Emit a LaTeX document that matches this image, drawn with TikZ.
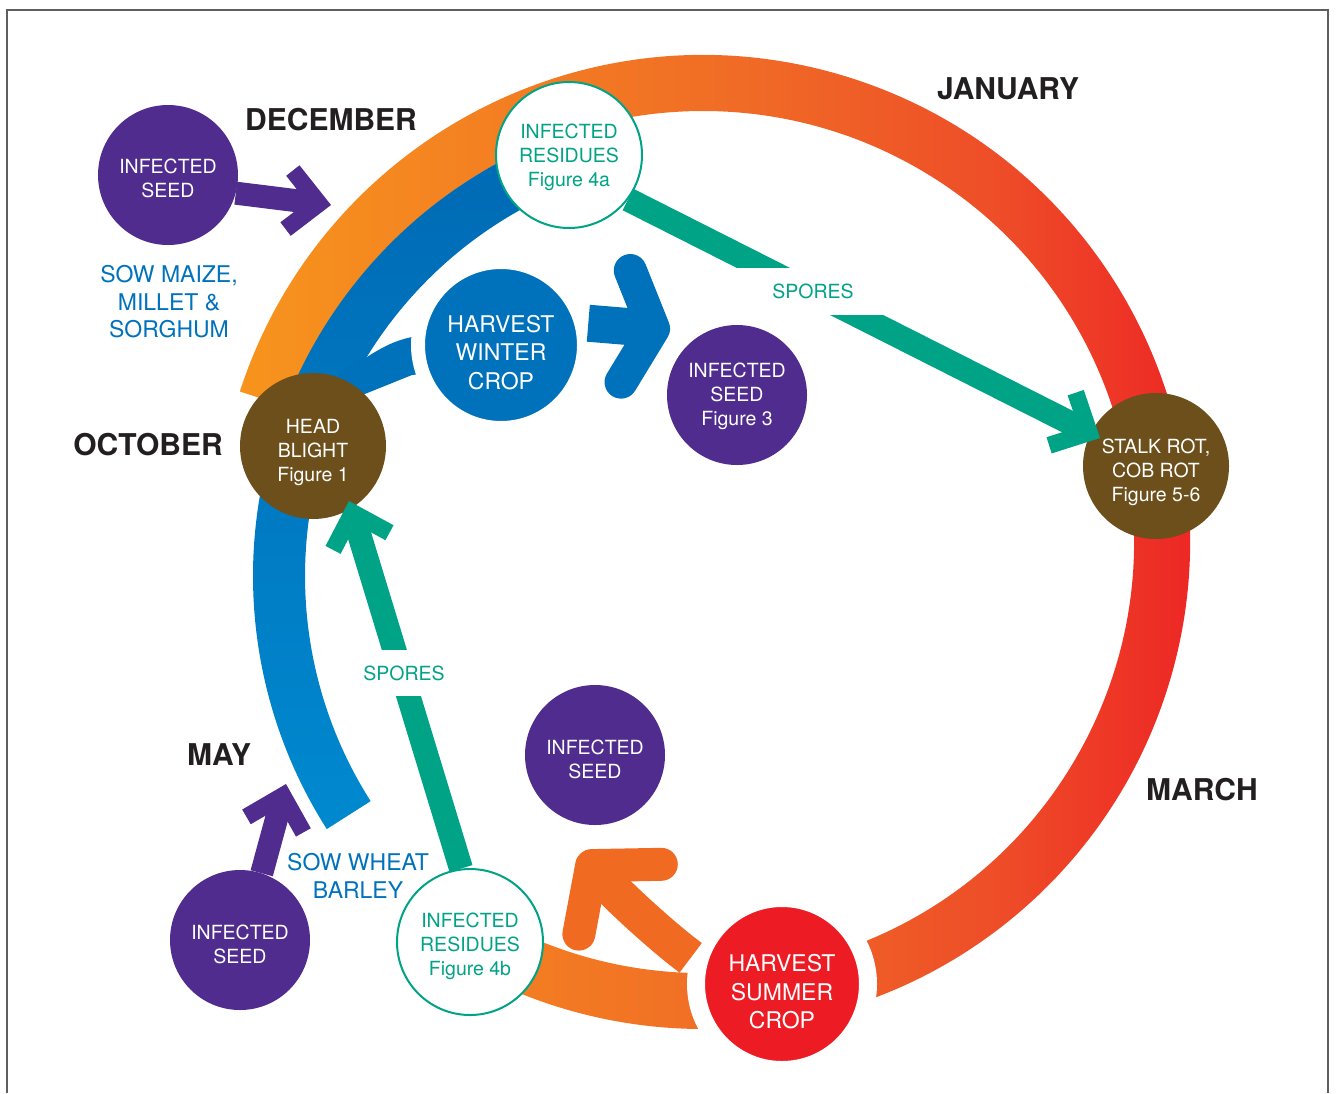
\documentclass[tikz,border=0pt]{standalone}
\usepackage{fontspec}
\setmainfont{TeX Gyre Heros}
\usetikzlibrary{arrows.meta,calc}
\pgfdeclarelayer{bg}
\pgfsetlayers{bg,main}

\definecolor{seedpurple}{HTML}{4F2C8D}
\definecolor{sporeteal}{HTML}{00A386}
\definecolor{rotbrown}{HTML}{6C4F1B}
\definecolor{summerred}{HTML}{ED1C24}
\definecolor{cropblue}{HTML}{0071BB}
\definecolor{croporange}{HTML}{F16A22}
\definecolor{sowblue}{HTML}{0072BC}
\definecolor{monthblack}{HTML}{231F20}
\definecolor{framegray}{HTML}{5E5E5E}
\definecolor{bandtop}{HTML}{0069B4}
\definecolor{bandbot}{HTML}{0089CF}
\definecolor{ringA}{HTML}{F7941D}
\definecolor{ringB}{HTML}{F06B26}
\definecolor{ringC}{HTML}{EE4D28}
\definecolor{ringD}{HTML}{ED1C24}

\pgfdeclarehorizontalshading{ringshade}{100bp}{color(0bp)=(ringA); color(25bp)=(ringA);
  color(50bp)=(ringB); color(62.5bp)=(ringC); color(75bp)=(ringD); color(100bp)=(ringD)}

% invisible strut that lowers the text block inside a disc
\newcommand{\lowr}[1]{\rule{0pt}{#1}}

\tikzset{
  disc/.style={circle, inner sep=0pt, minimum size=140pt, text=white, align=center,
    font=\fontsize{19.5}{24}\selectfont},
  seed/.style={disc, fill=seedpurple},
  residue/.style={disc, minimum size=146pt, fill=white, draw=sporeteal, line width=2pt,
    text=sporeteal},
  disease/.style={disc, minimum size=146pt, fill=rotbrown},
  harvest/.style={disc, draw=white, font=\fontsize{23}{28.5}\selectfont},
  month/.style={font=\fontsize{30}{36}\selectfont\bfseries, text=monthblack},
  sowing/.style={font=\fontsize{23}{27.5}\selectfont, text=sowblue, align=center},
  spores/.style={fill=white, text=sporeteal, font=\fontsize{19.5}{24}\selectfont},
  seedarrow/.style={seedpurple, line width=23pt,
    -{Straight Barb[length=30pt, width=59pt, line width'=17pt]}},
  sporearrow/.style={sporeteal, line width=24pt,
    -{Straight Barb[length=30pt, width=59pt, line width'=17pt]}},
  winterarrow/.style={cropblue, line width=37pt,
    -{Straight Barb[round, length=28pt, width=112pt, line width'=33pt]}},
  summerarrow/.style={croporange, line width=37pt,
    -{Straight Barb[round, length=44pt, width=108pt, line width'=33pt]}},
}

\begin{document}
\begin{tikzpicture}[x=1pt, y=-1pt]
\useasboundingbox (0,0) rectangle (1337,1093);

% page frame
\draw[framegray, line width=2.2pt] (7,1093) -- (7,10) -- (1328,10) -- (1328,1093);

% centres of the year ring and the winter band
\coordinate (hub) at (703,542);
\coordinate (bandhub) at (724,576);

% free arrow ends
\coordinate (seedAtip) at (331,205);
\coordinate (seedBtip) at (286,784);
\coordinate (stalktip) at (1100,438);
\coordinate (blighttip) at (349,501);
\coordinate (seed3tip) at (670,330);
\coordinate (summertip) at (581,853);

% stages
\node[seed] (seedA) at (168,175) {\lowr{22pt}INFECTED\\SEED};
\node[residue] (res4a) at (569,155) {\lowr{20pt}INFECTED\\RESIDUES\\Figure 4a};
\node[harvest, fill=cropblue, line width=14pt, minimum size=166pt]
  (winter) at (501,345) {\lowr{31.5pt}HARVEST\\WINTER\\CROP};
\node[seed] (seed3) at (737,395) {\lowr{18pt}INFECTED\\SEED\\Figure 3};
\node[disease] (blight) at (313,446) {\lowr{28pt}HEAD\\BLIGHT\\Figure 1};
\node[disease] (stalk) at (1156,466) {\lowr{28pt}STALK ROT,\\COB ROT\\Figure 5-6};
\node[seed] (seedM) at (595,755) {\lowr{24pt}INFECTED\\SEED};
\node[residue] (res4b) at (470,942) {\lowr{24pt}INFECTED\\RESIDUES\\Figure 4b};
\node[seed] (seedB) at (240,940) {\lowr{24pt}INFECTED\\SEED};
\node[harvest, fill=summerred, line width=18pt, minimum size=172pt]
  (summer) at (782,984) {\lowr{32.5pt}HARVEST\\SUMMER\\CROP};

% months and sowing
\node[month] (dec) at (331,120) {DECEMBER};
\node[month] (jan) at (1008,89) {JANUARY};
\node[month] (oct) at (148,445) {OCTOBER};
\node[month] (may) at (219,755) {MAY};
\node[month] (mar) at (1202,790) {MARCH};
\node[sowing] (sowmaize) at (169,302) {SOW MAIZE,\\MILLET \&\\SORGHUM};
\node[sowing] (sowwheat) at (358,876) {SOW WHEAT\\BARLEY};

% bands behind the stages
\begin{pgfonlayer}{bg}
  \shade[shading=ringshade]
    ($(hub)+(-162:487)$) arc[start angle=-162, end angle=120, radius=487]
    -- ($(hub)+(120:431)$) arc[start angle=120, end angle=-162, radius=431] -- cycle;
  \shade[top color=bandtop, bottom color=bandbot]
    ($(bandhub)+(-110:471)$) arc[start angle=-110, end angle=-212.5, radius=471]
    -- ($(bandhub)+(-212.5:419)$) arc[start angle=-212.5, end angle=-110, radius=419] -- cycle;
  \fill[cropblue] (367,357) .. controls (384,346) and (397,340) .. (412,337)
    -- (440,333) -- (440,372) -- (412,375) -- (330,408) -- (340,370) -- cycle;
\end{pgfonlayer}

% arrows
\draw[seedarrow] (seedA.-15) -- (seedAtip);
\draw[seedarrow] (seedB.72) -- (seedBtip);
\draw[winterarrow] (winter.14) -- (seed3tip);
\draw[summerarrow] (summer.164) .. controls (660,935) and (614,892) .. (summertip);
\draw[sporearrow] (res4a.-37) -- (stalktip);
\draw[sporearrow] (res4b.97) -- (blighttip);
\node[spores, minimum width=160pt, minimum height=47pt] (sporesA) at (813,291.5) {SPORES};
\node[spores, minimum width=92pt, minimum height=46pt] (sporesB) at (404,673) {SPORES};
\end{tikzpicture}
\end{document}
